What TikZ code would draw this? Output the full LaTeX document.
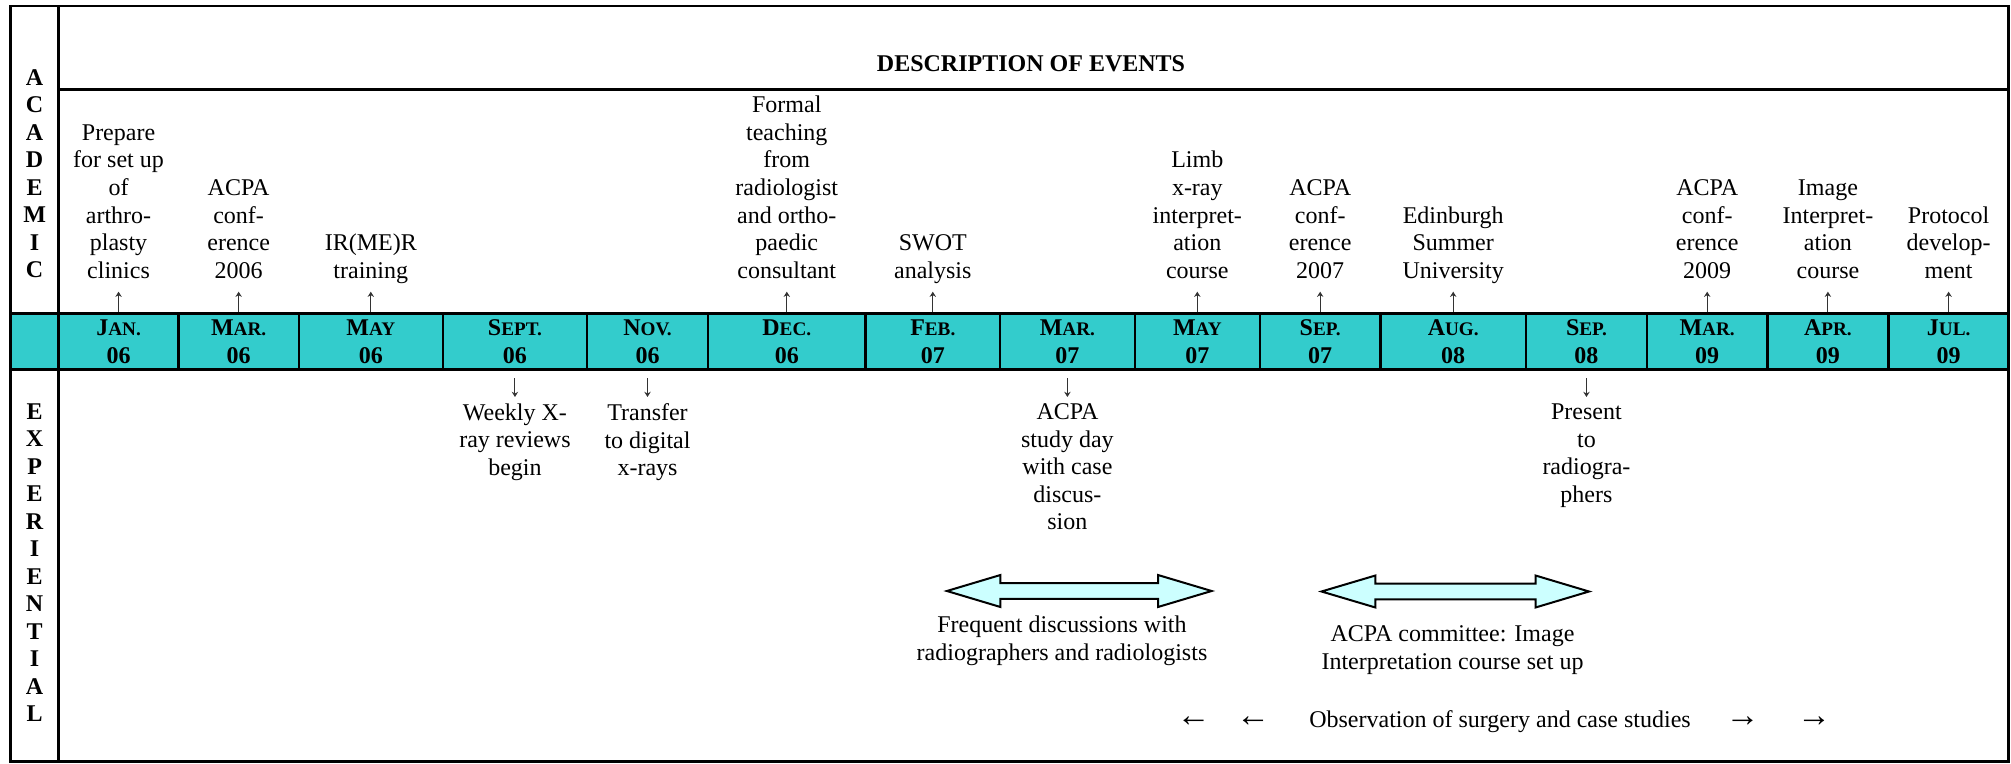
\documentclass[tikz,border=0pt]{standalone}
\usepackage{fontspec}
\setmainfont{Liberation Serif}
\usetikzlibrary{arrows.meta}
\definecolor{bandteal}{HTML}{33CCCC}
\definecolor{arrowfill}{HTML}{CCFFFF}
\newcommand\mon[2]{#1{\fontsize{9.6}{9.6}\selectfont #2}}
\newcommand\firstline{\rule{0pt}{9pt}}
\begin{document}
\begin{tikzpicture}[x=0.5pt,y=-0.5pt,
  every node/.style={font=\fontsize{12}{13.8}\selectfont, inner sep=0pt, outer sep=0pt},
  cellbox/.style={draw, line width=1.2pt, fill=bandteal, minimum height=27.8pt, align=center,
    font=\bfseries\fontsize{12}{13.8}\selectfont},
  evup/.style={anchor=south, align=center, text depth=0pt},
  evdown/.style={anchor=north, align=center, execute at begin node=\firstline},
  evarrow/.style={draw=black!80, line width=0.5pt, -{Stealth[length=2.6pt,width=3.2pt]}},
  upconn/.style={evarrow, shorten <=0.8pt, shorten >=6.7pt},
  downconn/.style={evarrow, shorten <=4.35pt, shorten >=3.35pt},
  framerule/.style={line width=1.2pt},
  blockarrow/.style={draw, line width=1pt, fill=arrowfill, line join=miter},
  vlab/.style={align=center, font=\bfseries\fontsize{12}{13.75}\selectfont},
  glypharrow/.style={anchor=center, font=\fontsize{17}{17}\selectfont}
]
\useasboundingbox (0,0) rectangle (2011,764);

% band
\fill[bandteal] (10.5,313.7) rectangle (2008.5,369.3);
\draw[framerule] (10.5,313.7) -- (2008.5,313.7);
\draw[framerule] (10.5,369.3) -- (2008.5,369.3);

% date cells
\node[cellbox, minimum width=60.05pt] (c1) at (118.55,341.5) {\mon{J}{AN.}\\06};
\node[cellbox, minimum width=60.05pt] (c2) at (238.65,341.5) {\mon{M}{AR.}\\06};
\node[cellbox, minimum width=72.1pt] (c3) at (370.8,341.5) {\mon{M}{AY}\\06};
\node[cellbox, minimum width=72.05pt] (c4) at (514.95,341.5) {\mon{S}{EPT.}\\06};
\node[cellbox, minimum width=60.5pt] (c5) at (647.5,341.5) {\mon{N}{OV.}\\06};
\node[cellbox, minimum width=78.8pt] (c6) at (786.8,341.5) {\mon{D}{EC.}\\06};
\node[cellbox, minimum width=67.2pt] (c7) at (932.8,341.5) {\mon{F}{EB.}\\07};
\node[cellbox, minimum width=67.4pt] (c8) at (1067.4,341.5) {\mon{M}{AR.}\\07};
\node[cellbox, minimum width=62.5pt] (c9) at (1197.3,341.5) {\mon{M}{AY}\\07};
\node[cellbox, minimum width=60.35pt] (c10) at (1320.15,341.5) {\mon{S}{EP.}\\07};
\node[cellbox, minimum width=72.7pt] (c11) at (1453.2,341.5) {\mon{A}{UG.}\\08};
\node[cellbox, minimum width=60.55pt] (c12) at (1586.45,341.5) {\mon{S}{EP.}\\08};
\node[cellbox, minimum width=60.15pt] (c13) at (1707.15,341.5) {\mon{M}{AR.}\\09};
\node[cellbox, minimum width=60.6pt] (c14) at (1827.9,341.5) {\mon{A}{PR.}\\09};
\node[cellbox, minimum width=60.1pt] (c15) at (1948.6,341.5) {\mon{J}{UL.}\\09};

% frame
\draw[framerule] (10.5,6) rectangle (2008.5,761.5);
\draw[framerule] (58.5,6) -- (58.5,761.5);
\draw[framerule] (58.5,89.7) -- (2008.5,89.7);

% title and side labels
\node[font=\bfseries\fontsize{12}{13.8}\selectfont, anchor=base] (title) at (1031,71.4) {DESCRIPTION OF EVENTS};
\node[vlab, anchor=south, text depth=0pt] (acad) at (34.6,277.8) {A\\C\\A\\D\\E\\M\\I\\C};
\node[vlab, anchor=north, execute at begin node=\firstline] (exper) at (34.6,403.5) {E\\X\\P\\E\\R\\I\\E\\N\\T\\I\\A\\L};

% academic events
\node[evup] (u1) at (118.55,278.3) {Prepare\\for set up\\of\\arthro-\\plasty\\clinics};
\node[evup] (u2) at (238.65,278.3) {ACPA\\conf-\\erence\\2006};
\node[evup] (u3) at (370.8,278.3) {IR(ME)R\\training};
\node[evup] (u6) at (786.8,278.3) {Formal\\teaching\\from\\radiologist\\and ortho-\\paedic\\consultant};
\node[evup] (u7) at (932.8,278.3) {SWOT\\analysis};
\node[evup] (u9) at (1197.3,278.3) {Limb\\x-ray\\interpret-\\ation\\course};
\node[evup] (u10) at (1320.15,278.3) {ACPA\\conf-\\erence\\2007};
\node[evup] (u11) at (1453.2,278.3) {Edinburgh\\Summer\\University};
\node[evup] (u13) at (1707.15,278.3) {ACPA\\conf-\\erence\\2009};
\node[evup] (u14) at (1827.9,278.3) {Image\\Interpret-\\ation\\course};
\node[evup] (u15) at (1948.6,278.3) {Protocol\\develop-\\ment};

\foreach \i in {1,2,3,6,7,9,10,11,13,14,15}
  \draw[upconn] (c\i.north) -- (u\i.south);

% experiential events
\node[evdown] (d4) at (514.95,403.7) {Weekly X-\\ray reviews\\begin};
\node[evdown] (d5) at (647.5,403.7) {Transfer\\to digital\\x-rays};
\node[evdown] (d8) at (1067.4,403.7) {ACPA\\study day\\with case\\discus-\\sion};
\node[evdown] (d12) at (1586.45,403.7) {Present\\to\\radiogra-\\phers};

\foreach \i in {4,5,8,12}
  \draw[downconn] (c\i.south) -- (d\i.north);

% block double arrows
\draw[blockarrow] (946.9,591) -- (1000.4,575) -- (1000.4,583.2) -- (1158,583.2) -- (1158,575)
  -- (1211.6,591) -- (1158,607) -- (1158,598.8) -- (1000.4,598.8) -- (1000.4,607) -- cycle;
\draw[blockarrow] (1321.5,591.5) -- (1375.4,575.5) -- (1375.4,583.7) -- (1535.5,583.7) -- (1535.5,575.5)
  -- (1589,591.5) -- (1535.5,607.5) -- (1535.5,599.3) -- (1375.4,599.3) -- (1375.4,607.5) -- cycle;

\node[evdown] (freq) at (1062,616) {Frequent discussions with\\radiographers and radiologists};
\node[evdown] (comm) at (1452.5,626) {ACPA committee: Image\\Interpretation course set up};

% observation line
\node[glypharrow] (la1) at (1193.5,721.7) {←};
\node[glypharrow] (la2) at (1253,721.7) {←};
\node[anchor=base] (obs) at (1500,727) {Observation of surgery and case studies};
\node[glypharrow] (ra1) at (1742.5,721.7) {→};
\node[glypharrow] (ra2) at (1814,721.7) {→};
\end{tikzpicture}
\end{document}
